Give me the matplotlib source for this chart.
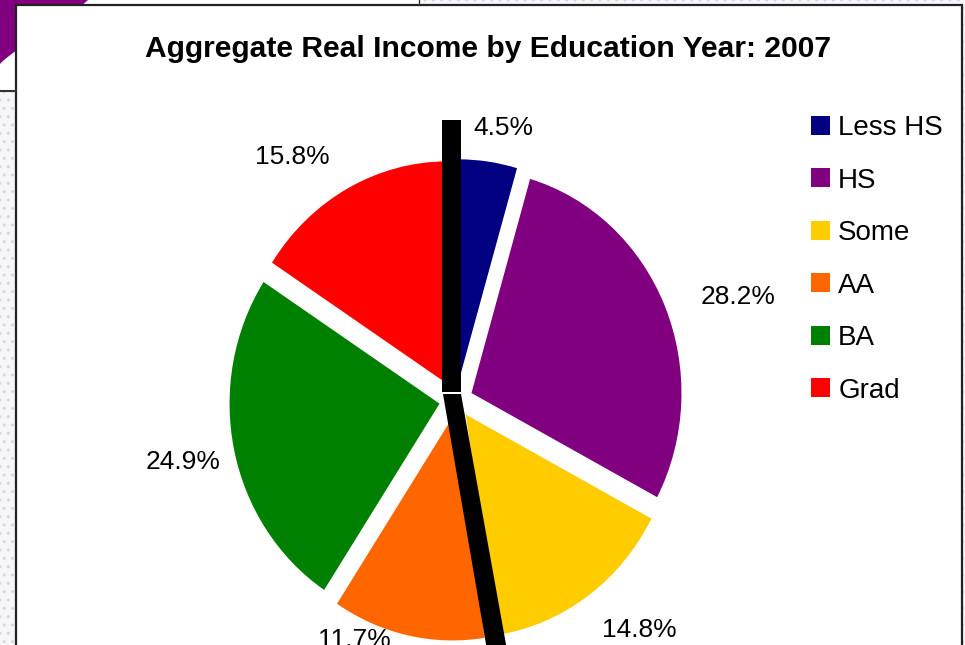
import numpy as np
import matplotlib
matplotlib.use("Agg")
import matplotlib.pyplot as plt
from matplotlib.patches import Rectangle, Polygon

plt.rcParams['font.family'] = ['Liberation Sans', 'DejaVu Sans']

# data
categories = ["Less HS", "HS", "Some", "AA", "BA", "Grad"]
shares = [4.5, 28.2, 14.8, 11.7, 24.9, 15.8]
colors = ["#000080", "#800080", "#FFCC00", "#FF6600", "#008000", "#FF0000"]

# layout of the % labels: radial distance and angle nudge (deg) from slice middle
label_r = [1.24, 1.42, 1.35, 1.18, 1.33, 1.34]
label_nudge = [-2.3, -4.0, 4.7, -12.0, 0.3, 7.0]

W, H = 965, 645
fig = plt.figure(figsize=(W / 100, H / 100), dpi=100)

# slide background drawn in pixel coordinates
bg = fig.add_axes([0, 0, 1, 1], zorder=0)
bg.set_xlim(0, W)
bg.set_ylim(H, 0)
bg.axis("off")
dots = dict(facecolor="#f6f6fa", edgecolor="#d6d6e4", hatch="..", linewidth=0)
bg.add_patch(Rectangle((0, 91), 16, H - 91, **dots))
bg.add_patch(Rectangle((419, 0), W - 419, 5, **dots))
bg.add_patch(Rectangle((962, 0), 3, H, **dots))
bg.plot([0, 16], [91, 91], color="#333333", lw=1.5)
bg.plot([419, 419], [0, 5], color="#333333", lw=1)
t = np.linspace(0, 1, 30)
arc_x = 88 * (1 - t) ** 1.15
arc_y = 64 * t ** 0.9
bg.add_patch(Polygon(np.column_stack([np.r_[0, arc_x], np.r_[0, arc_y]]),
                     closed=True, facecolor="#800080", edgecolor="none"))
bg.add_patch(Rectangle((16, 5), 946, H + 10, facecolor="white",
                       edgecolor="#222222", linewidth=1.6))

# pie (slightly elliptical like the original)
cx, cy, rx, ry = 456, 400, 210, 223
span = 1.5
pie_ax = fig.add_axes([(cx - span * rx) / W, (H - cy - span * ry) / H,
                       2 * span * rx / W, 2 * span * ry / H], zorder=1)
wedges, _ = pie_ax.pie(shares, colors=colors, startangle=90, counterclock=False,
                       explode=[0.08] * len(shares),
                       wedgeprops=dict(linewidth=0))
pie_ax.set_aspect("auto")
pie_ax.set_xlim(-span, span)
pie_ax.set_ylim(-span, span)
pie_ax.axis("off")
pie_ax.patch.set_alpha(0)

for w, val, r, nd in zip(wedges, shares, label_r, label_nudge):
    ang = np.deg2rad((w.theta1 + w.theta2) / 2 + nd)
    pie_ax.text(r * np.cos(ang), r * np.sin(ang), "%.1f%%" % val,
                ha="center", va="center", fontsize=19, clip_on=False)

pie_ax.legend(wedges, categories, loc="upper left",
              bbox_to_anchor=(811 / W, 1 - 115 / H), bbox_transform=fig.transFigure,
              frameon=False, fontsize=20, handlelength=0.68, handleheight=0.68,
              handletextpad=0.3, labelspacing=0.955, borderpad=0, borderaxespad=0)

# black pointer bars over the pie
top = fig.add_axes([0, 0, 1, 1], zorder=2)
top.set_xlim(0, W)
top.set_ylim(H, 0)
top.axis("off")
top.patch.set_alpha(0)
top.add_patch(Polygon([(442, 120), (461, 120), (461, 392), (442, 392)],
                      closed=True, facecolor="black", edgecolor="none"))
top.add_patch(Polygon([(443, 394), (461, 394), (507, 650), (487, 650)],
                      closed=True, facecolor="black", edgecolor="none"))

fig.text(488 / W, 1 - 49 / H, "Aggregate Real Income by Education Year: 2007",
         ha="center", va="center", fontsize=21.6, fontweight="bold", zorder=3)

fig.savefig("out.png", dpi=100)
